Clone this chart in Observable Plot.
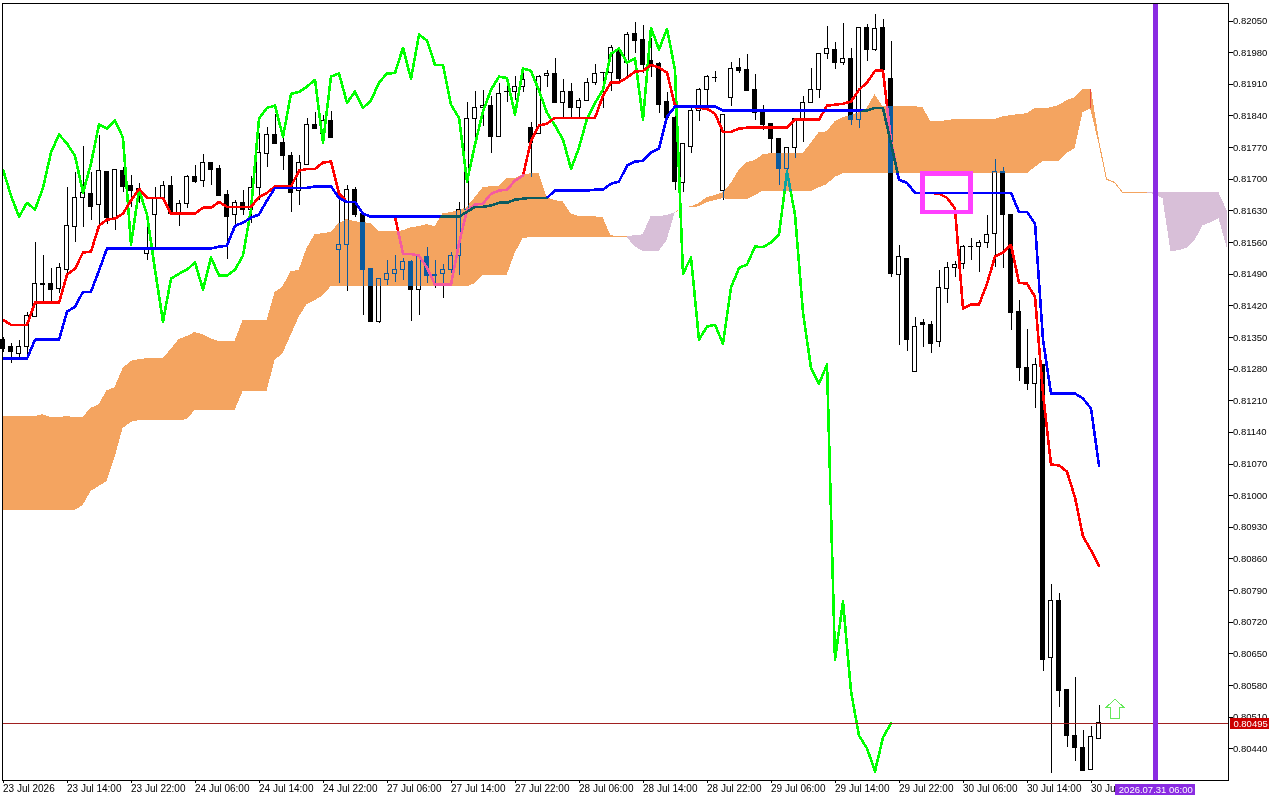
<!DOCTYPE html>
<html><head><meta charset="utf-8">
<style>html,body{margin:0;padding:0;background:#fff}svg{display:block}</style>
<script src="https://cdn.jsdelivr.net/npm/d3@7"></script>
<script src="https://cdn.jsdelivr.net/npm/@observablehq/plot@0.6"></script>
</head><body><div id="chart"></div>
<script>
// Prices are in points (1e-5)
const open = [
81345,81328,81314,81330,81396,81469,81469,81458,81500,81595,
81659,81668,81642,81717,81615,81719,81686,81679,81535,81620,
81659,81686,81620,81646,81706,81697,81735,81723,81666,81620,
81648,81633,81681,81757,81799,81781,81752,81673,81732,81821,
81801,81830,81544,81555,81677,81624,81502,81385,81478,81491,
81500,81516,81456,81527,81489,81491,81500,81531,81633,81834,
81858,81863,81794,81894,81894,81905,81814,81801,81929,81934,
81869,81894,81858,81874,81914,81936,81936,81984,81958,82022,
82009,81962,81956,81872,81836,81692,81772,81850,81898,81925,
81675,81880,81947,81942,81898,81847,81823,81790,81723,81770,
81834,81869,81898,81978,81987,81958,81967,81832,82035,81987,
82035,81922,81489,81524,81274,81381,81378,81339,81458,81504,
81513,81551,81551,81560,81580,81717,81622,81407,81283,81248,
81290,80640,80766,80569,80469,80441,80394,80461];
const high = [
81350,81336,81343,81405,81560,81531,81502,81513,81681,81715,
81772,81715,81796,81717,81721,81726,81708,81690,81608,81681,
81695,81706,81653,81708,81730,81754,81737,81730,81675,81653,
81675,81706,81801,81814,81843,81801,81759,81752,81834,81847,
81841,81850,81675,81686,81681,81624,81502,81480,81520,81531,
81524,81520,81527,81549,81520,81511,81538,81648,81869,81894,
81896,81883,81911,81911,81927,81942,81825,81929,81940,81967,
81920,81911,81878,81922,81953,81936,81995,81989,82024,82046,
82040,82011,81958,81892,81863,81779,81858,81900,81929,81938,
81843,81958,81967,81976,81931,81863,81823,81790,81770,81834,
81883,81945,81978,82037,82002,82044,81989,82035,82042,82064,
82053,82004,81553,81524,81394,81389,81385,81498,81516,81518,
81553,81569,81564,81620,81743,81726,81622,81431,81367,81303,
81290,80803,80783,80569,80598,80481,80489,80536];
const low = [
81316,81292,81305,81310,81394,81423,81425,81447,81491,81560,
81593,81608,81597,81600,81586,81670,81637,81646,81520,81542,
81657,81624,81595,81635,81690,81681,81686,81661,81522,81597,
81620,81602,81653,81726,81777,81719,81626,81642,81730,81810,
81792,81792,81469,81451,81615,81398,81385,81381,81465,81471,
81476,81385,81398,81469,81458,81436,81491,81487,81631,81785,
81816,81757,81794,81869,81874,81892,81704,81801,81903,81867,
81832,81836,81832,81874,81907,81856,81894,81914,81925,81978,
81934,81925,81845,81836,81675,81670,81757,81827,81858,81914,
81653,81861,81934,81894,81830,81807,81757,81686,81712,81746,
81781,81869,81878,81965,81942,81951,81819,81812,81960,81982,
81942,81482,81332,81319,81274,81328,81314,81328,81425,81482,
81500,81520,81493,81547,81504,81502,81365,81252,81232,81193,
80611,80385,80531,80443,80412,80390,80394,80461];
const close = [
81325,81317,81330,81398,81469,81465,81456,81504,81597,81659,
81670,81639,81719,81615,81721,81684,81673,81666,81549,81659,
81686,81624,81646,81704,81695,81735,81721,81664,81617,81648,
81633,81681,81759,81799,81779,81752,81670,81735,81821,81812,
81830,81792,81555,81677,81622,81500,81385,81480,81491,81500,
81516,81456,81527,81487,81487,81500,81531,81633,81834,81858,
81863,81794,81889,81893,81905,81920,81781,81927,81934,81869,
81894,81858,81874,81914,81934,81935,81991,81922,82020,82007,
81953,81953,81865,81836,81695,81777,81850,81898,81927,81924,
81843,81945,81940,81896,81847,81819,81788,81723,81770,81834,
81869,81898,81978,81989,81958,81967,81832,82035,81987,82033,
81942,81491,81527,81345,81374,81378,81336,81460,81504,81511,
81551,81550,81560,81577,81717,81622,81405,81283,81248,81290,
80637,80766,80567,80469,80441,80390,80465,80496];
const tenkan = [
81389,81378,81378,81378,81427,81427,81427,81427,81489,81502,
81538,81540,81597,81611,81613,81624,81653,81679,81659,81659,
81659,81624,81624,81624,81624,81637,81637,81650,81639,81639,
81639,81639,81661,81670,81684,81684,81684,81719,81723,81723,
81737,81739,81668,81650,81650,81624,81617,81617,81617,81617,
81535,81535,81531,81504,81467,81467,81467,81558,81631,81644,
81646,81668,81675,81677,81697,81708,81785,81819,81823,81836,
81836,81836,81836,81836,81836,81885,81914,81914,81925,81938,
81940,81953,81947,81936,81863,81861,81861,81858,81856,81845,
81805,81805,81812,81814,81814,81814,81814,81814,81814,81832,
81832,81832,81832,81863,81865,81867,81872,81898,81914,81940,
81940,81785,81699,81692,81670,81670,81670,81668,81659,81635,
81414,81423,81423,81469,81529,81538,81555,81471,81469,81440,
81226,81069,81067,81053,80996,80910,80879,80845];
const kijun = [
81303,81303,81303,81303,81345,81345,81345,81345,81407,81418,
81451,81451,81498,81547,81547,81547,81547,81547,81547,81547,
81547,81547,81547,81547,81547,81547,81547,81551,81553,81597,
81604,81615,81622,81653,81681,81681,81681,81681,81681,81684,
81684,81684,81659,81650,81650,81624,81617,81617,81617,81617,
81617,81617,81617,81617,81617,81617,81617,81617,81628,81639,
81639,81642,81648,81648,81655,81657,81659,81659,81659,81675,
81675,81675,81675,81675,81677,81677,81690,81695,81730,81739,
81741,81759,81768,81838,81861,81861,81861,81861,81861,81861,
81852,81852,81852,81852,81852,81852,81852,81852,81852,81852,
81852,81852,81852,81852,81852,81852,81852,81852,81852,81858,
81858,81779,81699,81692,81670,81670,81670,81670,81670,81670,
81670,81670,81670,81670,81670,81670,81670,81628,81628,81602,
81345,81226,81226,81226,81226,81215,81193,81067];
const chikou = [
81721,81664,81617,81648,
81633,81681,81759,81799,81779,81752,81670,81735,81821,81812,
81830,81792,81555,81677,81622,81500,81385,81480,81491,81500,
81516,81456,81527,81487,81487,81500,81531,81633,81834,81858,
81863,81794,81889,81893,81905,81920,81781,81927,81934,81869,
81894,81858,81874,81914,81934,81935,81991,81922,82020,82007,
81953,81953,81865,81836,81695,81777,81850,81898,81927,81924,
81843,81945,81940,81896,81847,81819,81788,81723,81770,81834,
81869,81898,81978,81989,81958,81967,81832,82035,81987,82033,
81942,81491,81527,81345,81374,81378,81336,81460,81504,81511,
81551,81550,81560,81577,81717,81622,81405,81283,81248,81290,
80637,80766,80567,80469,80441,80390,80465,80496];
const senkouA = [
81175,81175,81175,81175,81175,81179,81173,81173,81175,81173,
81173,81193,81201,81232,81239,81281,81297,81301,81303,81303,
81303,81323,81345,81352,81361,81356,81347,81341,81341,81341,
81387,81387,81387,81387,81449,81462,81496,81498,81547,81577,
81580,81582,81602,81611,81606,81604,81602,81584,81584,81584,
81586,81593,81595,81600,81595,81624,81626,81631,81637,81659,
81681,81684,81684,81701,81701,81710,81712,81712,81659,81653,
81650,81624,81617,81617,81617,81615,81575,81573,81573,81575,
81577,81617,81617,81620,81626,81637,81639,81646,81659,81664,
81670,81690,81719,81737,81741,81754,81757,81757,81757,81757,
81757,81779,81803,81805,81827,81836,81841,81847,81856,81887,
81861,81861,81861,81861,81861,81858,81827,81827,81830,81832,
81832,81832,81832,81832,81832,81838,81841,81843,81845,81856,
81856,81858,81863,81874,81880,81898,81898,81785,81699,81692,
81670,81670,81670,81670,81670,81670,81670,81670,81670,81670,
81670,81670,81670,81631];
const senkouB = [
80967,80967,80967,80967,80967,80967,80967,80967,80967,80967,
80978,81009,81020,81031,81084,81148,81162,81166,81166,81166,
81166,81166,81166,81168,81188,81188,81188,81188,81188,81188,
81230,81230,81230,81230,81299,81314,81354,81394,81423,81431,
81442,81462,81462,81462,81462,81462,81462,81462,81462,81462,
81462,81462,81462,81462,81462,81462,81462,81462,81462,81469,
81487,81487,81487,81487,81535,81569,81571,81571,81571,81571,
81571,81571,81571,81571,81571,81571,81571,81571,81571,81551,
81540,81540,81540,81564,81624,81637,81637,81639,81648,81653,
81657,81655,81655,81655,81664,81673,81673,81673,81673,81673,
81673,81673,81681,81688,81704,81712,81712,81712,81712,81712,
81712,81712,81712,81712,81712,81712,81712,81712,81712,81712,
81712,81712,81712,81712,81712,81712,81712,81712,81712,81726,
81739,81739,81739,81757,81768,81847,81856,81785,81699,81692,
81670,81670,81670,81670,81666,81657,81540,81542,81547,81564,
81597,81604,81613,81549];
const priceTicks = [80440,80510,80580,80650,80720,80790,80860,80930,81000,81070,81140,81210,81280,81350,81420,81490,81560,81630,81700,81770,81840,81910,81980,82050];
const timeLabels = ["23 Jul 2026","23 Jul 14:00","23 Jul 22:00","24 Jul 06:00","24 Jul 14:00","24 Jul 22:00","27 Jul 06:00","27 Jul 14:00","27 Jul 22:00","28 Jul 06:00","28 Jul 14:00","28 Jul 22:00","29 Jul 06:00","29 Jul 14:00","29 Jul 22:00","30 Jul 06:00","30 Jul 14:00","30 Jul"];
const timeTicks = timeLabels.map((_, k) => k * 8);
const lastPrice = 80495;
const cursorBar = 144;

const candles = close.map((c, i) => ({i, o: open[i], h: high[i], l: low[i], c}));
const cloud = senkouA.map((a, i) => ({i, a, b: senkouB[i]}));
const band = (from, to) => cloud.filter(d => d.i >= from && d.i <= to);
const XOR_ORANGE = "#0B5B9F", XOR_THISTLE = "#274027";
const crisp = {shapeRendering: "crispEdges"};
const cloudMark = (from, to, fill, stroke) => Plot.areaY(band(from, to), {x: "i", y1: "a", y2: "b", fill, stroke, strokeWidth: stroke ? 1 : 0, mixBlendMode: "difference", ...crisp});
const arrowUp = {draw(ctx) {
  ctx.moveTo(0, -9.5); ctx.lineTo(8.5, -1.5); ctx.lineTo(4.5, -1.5); ctx.lineTo(4.5, 9.5);
  ctx.lineTo(-4.5, 9.5); ctx.lineTo(-4.5, -1.5); ctx.lineTo(-8.5, -1.5); ctx.closePath();
}};
const W = 0.25; // half body, in bars

const chart = Plot.plot({
  width: 1280, height: 800,
  marginLeft: 2, marginRight: 52.5, marginTop: 2.5, marginBottom: 20.5,
  style: {fontFamily: "'Liberation Sans', sans-serif", background: "#fff", color: "#000"},
  x: {type: "linear", domain: [0, 153], range: [2.5, 1226.5]},
  y: {type: "linear", domain: [80372, 82090], range: [779, 2.5]},
  marks: [
    Plot.ruleX(candles, {x: "i", y1: "l", y2: "h", stroke: "#000", strokeWidth: 1, ...crisp}),
    Plot.rect(candles.filter(d => d.c >= d.o), {x1: d => d.i - W, x2: d => d.i + W, y1: "o", y2: "c", fill: "#fff", stroke: "#000", strokeWidth: 1, ...crisp}),
    Plot.rect(candles.filter(d => d.c < d.o), {x1: d => d.i - W, x2: d => d.i + W, y1: "o", y2: "c", fill: "#000", stroke: "#000", strokeWidth: 1, ...crisp}),
    Plot.line(chikou, {x: (d, i) => i, y: d => d, stroke: "#00FF00", strokeWidth: 2.6, ...crisp}),
    Plot.line(tenkan, {x: (d, i) => i, y: d => d, stroke: "#FF0000", strokeWidth: 2.6, ...crisp}),
    Plot.line(kijun, {x: (d, i) => i, y: d => d, stroke: "#0000FF", strokeWidth: 2.6, ...crisp}),
    cloudMark(0, 78, XOR_ORANGE),
    cloudMark(78, 84, XOR_THISTLE),
    cloudMark(84, 136, XOR_ORANGE),
    cloudMark(136, 143, XOR_ORANGE, XOR_ORANGE),
    cloudMark(143, 153, XOR_THISTLE),
    Plot.ruleY([lastPrice], {stroke: "#a02020", strokeWidth: 1, ...crisp}),
    Plot.ruleX([cursorBar], {stroke: "#8A2BE2", strokeWidth: 5, ...crisp}),
    Plot.rect([{x1: 115, x2: 121, y1: 81626, y2: 81712}], {x1: "x1", x2: "x2", y1: "y1", y2: "y2", fill: "none", stroke: "#FF40FF", strokeWidth: 4.5, ...crisp}),
    Plot.dot([{i: 139, p: 80529}], {x: "i", y: "p", r: 1, symbol: arrowUp, fill: "#fff", stroke: "#66e85a", strokeWidth: 1, ...crisp}),
    Plot.frame({stroke: "#000", strokeWidth: 1, ...crisp}),
    Plot.axisX({anchor: "bottom", ticks: timeTicks, tickFormat: d => timeLabels[d / 8], label: null, tickSize: 3, tickPadding: 2, textAnchor: "start", fontSize: 10, ...crisp}),
    Plot.axisY({anchor: "right", ticks: priceTicks, tickFormat: d => (d / 1e5).toFixed(5), label: null, tickSize: 4, tickPadding: 1, fontSize: 9.5, ...crisp}),
    Plot.rect([{x1: 153.4, x2: 158.3, y1: 80483, y2: 80507}], {x1: "x1", x2: "x2", y1: "y1", y2: "y2", fill: "#CC0000", ...crisp}),
    Plot.text([{i: 153.8, p: lastPrice, t: "0.80495"}], {x: "i", y: "p", text: "t", fill: "#fff", fontSize: 9.5, textAnchor: "start"}),
    Plot.rect([{x1: 139.06, x2: 149, y1: 80337, y2: 80361}], {x1: "x1", x2: "x2", y1: "y1", y2: "y2", fill: "#8A2BE2", ...crisp}),
    Plot.text([{i: 144.1, p: 80349, t: "2026.07.31 06:00"}], {x: "i", y: "p", text: "t", fill: "#fff", fontSize: 9.5})
  ]
});
document.getElementById("chart").append(chart);
</script></body></html>
